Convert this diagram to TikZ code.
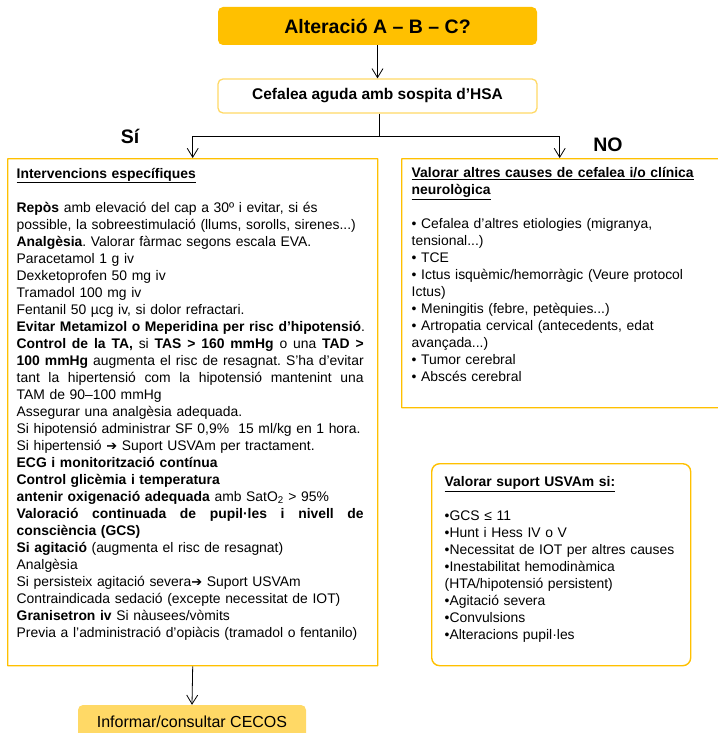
\documentclass[tikz,border=0pt]{standalone}
\usepackage{fontspec}
\setmainfont{Liberation Sans}
\newfontfamily\simbols{DejaVu Sans}
\usetikzlibrary{arrows.meta}

\definecolor{ambar}{HTML}{FFC000}
\definecolor{groc}{HTML}{FFD966}

\newcommand\fletxa{{\simbols\fontsize{13}{13}\selectfont ➔}}
\newcommand\jline[1]{{\spaceskip=0pt\xspaceskip=0pt\makebox[347pt][s]{#1}}}

\tikzset{
  fletx/.style={-{Straight Barb[length=9pt,width=11pt]}, line width=0.8pt},
  caixa/.style={draw=ambar, line width=1.4pt, rounded corners=0.4pt, anchor=north west,
    align=left, inner ysep=6pt, font=\fontsize{13.9}{17}\selectfont\frenchspacing},
  titol/.style={font=\bfseries\fontsize{19.5}{22}\selectfont},
}

\begin{document}
\begin{tikzpicture}[x=1pt,y=-1pt]
  \useasboundingbox (0,0) rectangle (717,733);

  % capcalera
  \node[titol, fill=ambar, rounded corners=5pt, minimum width=319pt, minimum height=38pt]
    (abc) at (377.5,26) {Alteració A – B – C?};
  \node[draw=groc, line width=1.3pt, rounded corners=5pt, minimum width=319pt, minimum height=34pt,
    font=\bfseries\fontsize{15.5}{18}\selectfont]
    (hsa) at (377.5,96) {Cefalea aguda amb sospita d’HSA};

  \node[titol, anchor=base] (si) at (130,143) {Sí};
  \node[titol, anchor=base] (no) at (608,151) {NO};

  % branca SI
  \node[caixa, inner xsep=9pt, text width=352pt, minimum width=370pt, minimum height=507pt]
    (intv) at (7,158) {%
    \underline{\textbf{Intervencions específiques}}\\
    \mbox{}\\
    \textbf{Repòs} amb elevació del cap a 30º i evitar, si és\\
    possible, la sobreestimulació (llums, sorolls, sirenes...)\\
    \textbf{Analgèsia}. Valorar fàrmac segons escala EVA.\\
    Paracetamol 1 g iv\\
    Dexketoprofen 50 mg iv\\
    Tramadol 100 mg iv\\
    Fentanil 50 µcg iv, si dolor refractari.\\
    \textbf{Evitar Metamizol o Meperidina per risc d’hipotensió}.\\
    \jline{\textbf{Control de la TA,} si \textbf{TAS > 160 mmHg} o una \textbf{TAD >}}\\
    \jline{\textbf{100 mmHg} augmenta el risc de resagnat. S’ha d’evitar}\\
    \jline{tant la hipertensió com la hipotensió mantenint una}\\
    TAM de 90–100 mmHg\\
    Assegurar una analgèsia adequada.\\
    Si hipotensió administrar SF 0,9\%\ \ 15 ml/kg en 1 hora.\\
    Si hipertensió \fletxa{} Suport USVAm per tractament.\\
    \textbf{ECG i monitorització contínua}\\
    \textbf{Control glicèmia i temperatura}\\
    \textbf{antenir oxigenació adequada} amb SatO\textsubscript{2} > 95\%\\
    \jline{\textbf{Valoració continuada de pupil·les i nivell de}}\\
    \textbf{consciència (GCS)}\\
    \textbf{Si agitació} (augmenta el risc de resagnat)\\
    Analgèsia\\
    Si persisteix agitació severa\fletxa{} Suport USVAm\\
    Contraindicada sedació (excepte necessitat de IOT)\\
    \textbf{Granisetron iv} Si nàusees/vòmits\\
    Previa a l’administració d’opiàcis (tramadol o fentanilo)\\[2pt]
    \mbox{}};

  % branca NO (la caixa surt per la dreta)
  \node[caixa, inner xsep=10pt, text width=300pt, minimum width=320pt, minimum height=249pt]
    (altres) at (401,158) {%
    \underline{\textbf{Valorar altres causes de cefalea i/o clínica}}\\
    \underline{\textbf{neurològica}}\\
    \mbox{}\\
    • Cefalea d'altres etiologies (migranya,\\
    tensional...)\\
    • TCE\\
    • Ictus isquèmic/hemorràgic (Veure protocol\\
    Ictus)\\
    • Meningitis (febre, petèquies...)\\
    • Artropatia cervical (antecedents, edat\\
    avançada...)\\
    • Tumor cerebral\\
    • Abscés cerebral\\
    \mbox{}};

  \node[caixa, rounded corners=8pt, inner xsep=13pt, text width=233pt, minimum width=259pt,
    minimum height=202pt] (usvam) at (431,463) {%
    \underline{\textbf{Valorar suport USVAm si:}}\\
    \mbox{}\\
    •GCS ≤ 11\\
    •Hunt i Hess IV o V\\
    •Necessitat de IOT per altres causes\\
    •Inestabilitat hemodinàmica\\
    (HTA/hipotensió persistent)\\
    •Agitació severa\\
    •Convulsions\\
    •Alteracions pupil·les\\[-4pt]
    \mbox{}};

  \node[fill=groc, rounded corners=5pt, minimum width=228pt, minimum height=34pt,
    font=\fontsize{16}{19}\selectfont] (cecos) at (192,722) {Informar/consultar CECOS};

  % fletxes
  \coordinate (nus) at (379,136);
  \draw[fletx] (abc) -- (hsa);
  \draw[line width=0.8pt] (hsa.south -| nus) -- (nus);
  \draw[fletx] (nus) -| (intv.north);
  \draw[fletx] (nus) -| ([xshift=-2pt]altres.north);
  \draw[fletx] (intv.south) -- (cecos.north);
\end{tikzpicture}
\end{document}
